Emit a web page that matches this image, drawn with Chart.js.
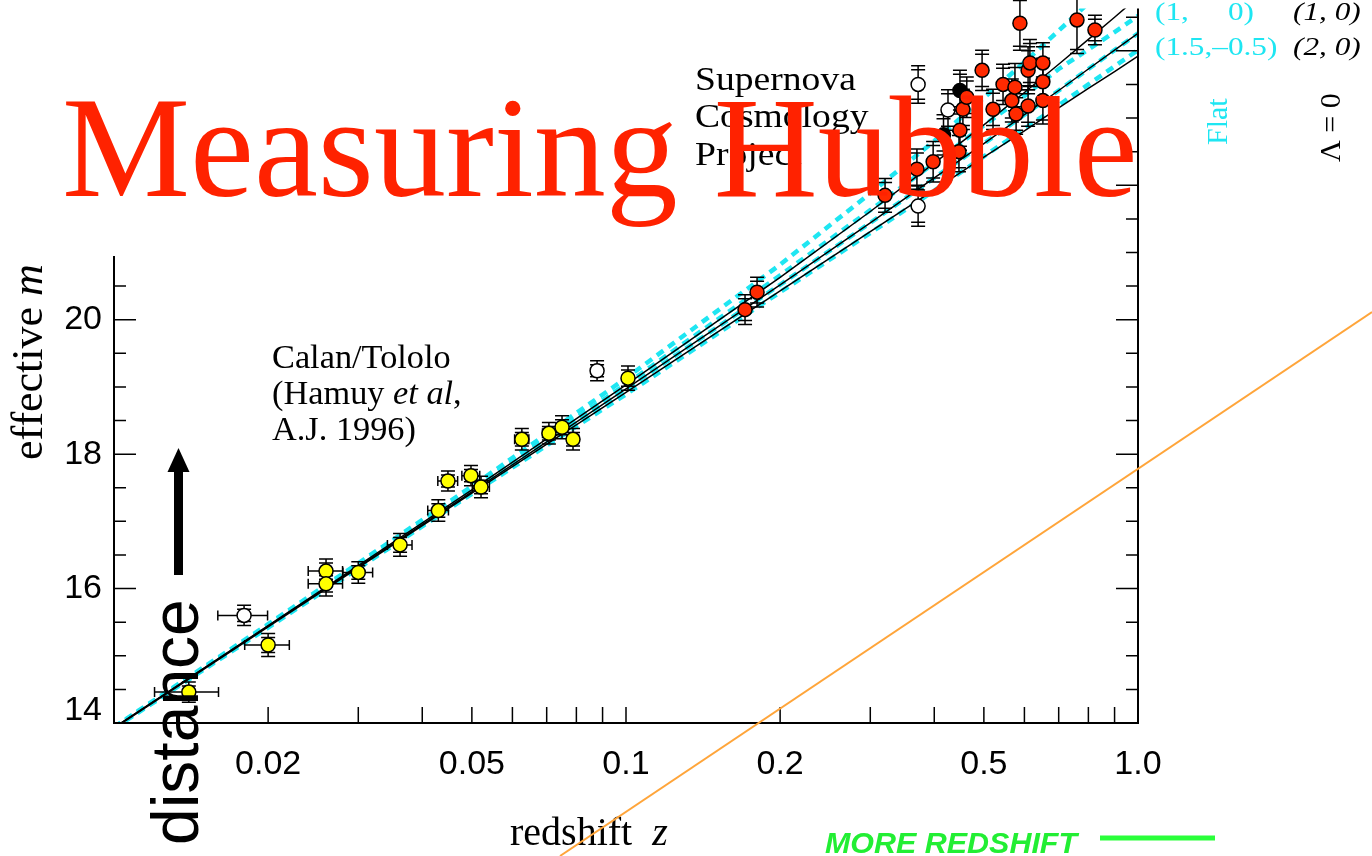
<!DOCTYPE html>
<html lang="en">
<head>
<meta charset="utf-8" />
<title>Measuring Hubble</title>
<script src="https://cdn.jsdelivr.net/npm/chart.js@4.4.1/dist/chart.umd.min.js"></script>
<style>
    html, body { margin: 0; padding: 0; background: #fff; overflow: hidden; }
    #wrap { position: relative; width: 1372px; height: 856px; }
</style>
</head>
<body>
<div id="wrap"><canvas id="hubbleChart"></canvas></div>
<script>
    // model curves, effective m against redshift z
    const modelZ = [0.01, 0.02, 0.05, 0.1, 0.2, 0.3, 0.4, 0.5, 0.6, 0.7, 0.8, 0.9, 1.0];
    const flat_0_1 = [13.94, 15.47, 17.52, 19.13, 20.82, 21.88, 22.66, 23.30, 23.83, 24.30, 24.71];
    const flat_05_05 = [13.93, 15.45, 17.48, 19.04, 20.66, 21.63, 22.33, 22.89, 23.33, 23.73, 24.02, 24.28, 24.52];
    const flat_1_0 = [13.93, 15.44, 17.44, 18.97, 20.52, 21.44, 22.11, 22.62, 23.05, 23.41, 23.73, 24.01, 24.26];
    const flat_15_m05 = [13.92, 15.42, 17.41, 18.89, 20.41, 21.29, 21.92, 22.43, 22.84, 23.19, 23.50, 23.77, 24.01];
    const open_0_0 = [13.93, 15.45, 17.47, 19.03, 20.63, 21.61, 22.33, 22.90, 23.38, 23.80, 24.17, 24.50, 24.80];
    const open_1_0 = [13.93, 15.44, 17.44, 18.97, 20.52, 21.44, 22.11, 22.62, 23.05, 23.41, 23.73, 24.01, 24.26];
    const closed_2_0 = [13.92, 15.43, 17.42, 18.92, 20.43, 21.31, 21.93, 22.42, 22.81, 23.15, 23.44, 23.69, 23.92];

    // Calan/Tololo supernovae
    const calanZ = [0.0140, 0.0200, 0.02595, 0.02595, 0.0300, 0.0362, 0.0430, 0.0449, 0.0498, 0.0521, 0.0626, 0.0707, 0.0750, 0.0788, 0.1009];
    const calanM = [14.46, 15.16, 16.26, 16.07, 16.24, 16.65, 17.16, 17.60, 17.68, 17.51, 18.22, 18.31, 18.40, 18.22, 19.13];
    const calanErr = [0.15, 0.17, 0.18, 0.18, 0.16, 0.17, 0.16, 0.15, 0.15, 0.16, 0.16, 0.16, 0.17, 0.16, 0.18];
    const calanZErr = [0.002, 0.002, 0.002, 0.002, 0.002, 0.002, 0.002, 0.002, 0.002, 0.002, 0.002, 0.002, 0.002, 0.002, 0.002];
    const calanOpenZ = [0.01795, 0.0878];
    const calanOpenM = [15.60, 19.24];
    const calanOpenErr = [0.15, 0.15];
    const calanOpenZErr = [0.002, 0.002];

    // Supernova Cosmology Project
    const scpZ = [0.1708, 0.1803, 0.3206, 0.370, 0.398, 0.447, 0.449, 0.455, 0.463, 0.496, 0.521, 0.545, 0.567, 0.575, 0.578, 0.588, 0.610, 0.610, 0.615, 0.652, 0.652, 0.652, 0.760, 0.824];
    const scpM = [20.15, 20.41, 21.85, 22.24, 22.35, 22.50, 22.82, 23.13, 23.31, 23.71, 23.13, 23.50, 23.26, 23.46, 23.06, 24.41, 23.71, 23.18, 23.82, 23.82, 23.54, 23.26, 24.46, 24.31];
    const scpErr = [0.22, 0.22, 0.25, 0.30, 0.30, 0.30, 0.30, 0.30, 0.30, 0.30, 0.30, 0.30, 0.32, 0.35, 0.30, 0.40, 0.35, 0.30, 0.35, 0.30, 0.35, 0.35, 0.50, 0.22];
    const scpOpenZ = [0.372, 0.4255, 0.372];
    const scpOpenM = [23.50, 23.12, 21.69];
    const scpOpenErr = [0.28, 0.30, 0.30];
    const scpDarkZ = [0.449, 0.417];
    const scpDarkM = [23.41, 22.75];
    const scpDarkErr = [0.30, 0.30];

    // axis ticks
    const zTickVals = [0.02, 0.03, 0.04, 0.05, 0.06, 0.07, 0.08, 0.09, 0.1, 0.2, 0.3, 0.4, 0.5, 0.6, 0.7, 0.8, 0.9];
    const zLabelVals = [0.02, 0.05, 0.1, 0.2, 0.5, 1.0];
    const zLabels = ['0.02', '0.05', '0.1', '0.2', '0.5', '1.0'];
    const mLabelVals = [14, 16, 18, 20];

    const serif = '"Liberation Serif", "Times New Roman", serif';
    const sans = '"Liberation Sans", Arial, sans-serif';
    const cyan = '#1ee6f2';

    function pts(xs, ys) {
        return ys.map((y, i) => ({ x: xs[i], y: y }));
    }

    function curve(label, values, color, width, dash, order) {
        return {
            label: label, data: pts(modelZ, values), showLine: true,
            borderColor: color, borderWidth: width, borderDash: dash,
            pointRadius: 0, fill: false, clip: 0, order: order
        };
    }

    function points(label, xs, ys, err, zErr, fill) {
        return {
            label: label, data: pts(xs, ys), mErr: err, zErr: zErr,
            backgroundColor: fill, borderColor: '#000', borderWidth: 1.5,
            pointRadius: 7, pointHoverRadius: 7, order: 0
        };
    }

    // draws runs of text, optionally stretched horizontally
    function textRuns(ctx, x, y, runs, sx) {
        ctx.save();
        ctx.translate(x, y);
        ctx.scale(sx || 1, 1);
        let cx = 0;
        runs.forEach(r => {
            ctx.font = r[1];
            ctx.fillStyle = r[2];
            ctx.fillText(r[0], cx, 0);
            cx += ctx.measureText(r[0]).width;
        });
        ctx.restore();
    }

    function rotatedText(ctx, x, y, runs) {
        ctx.save();
        ctx.translate(x, y);
        ctx.rotate(-Math.PI / 2);
        textRuns(ctx, 0, 0, runs, 1);
        ctx.restore();
    }

    const hubbleDecor = {
        id: 'hubbleDecor',
        beforeDatasetDraw(chart, args) {
            const ds = chart.data.datasets[args.index];
            if (!ds.mErr) return;
            const ctx = chart.ctx, xs = chart.scales.x, ys = chart.scales.y;
            ctx.save();
            ctx.strokeStyle = '#000';
            ctx.lineWidth = 1.5;
            ds.data.forEach((p, i) => {
                const px = xs.getPixelForValue(p.x), py = ys.getPixelForValue(p.y);
                const yt = ys.getPixelForValue(p.y + ds.mErr[i]);
                const yb = ys.getPixelForValue(p.y - ds.mErr[i]);
                ctx.beginPath();
                ctx.moveTo(px, yt); ctx.lineTo(px, yb);
                [[yt, 1], [yb, -1]].forEach(c => {
                    ctx.moveTo(px - 7, c[0]); ctx.lineTo(px + 7, c[0]);
                    ctx.moveTo(px - 7, c[0] + c[1] * 4); ctx.lineTo(px + 7, c[0] + c[1] * 4);
                });
                if (ds.zErr) {
                    const xl = xs.getPixelForValue(p.x - ds.zErr[i]);
                    const xr = xs.getPixelForValue(p.x + ds.zErr[i]);
                    ctx.moveTo(xl, py); ctx.lineTo(xr, py);
                    ctx.moveTo(xl, py - 5); ctx.lineTo(xl, py + 5);
                    ctx.moveTo(xr, py - 5); ctx.lineTo(xr, py + 5);
                }
                ctx.stroke();
            });
            ctx.restore();
        },
        afterDraw(chart) {
            const ctx = chart.ctx, a = chart.chartArea, xs = chart.scales.x, ys = chart.scales.y;
            ctx.save();

            // frame
            ctx.strokeStyle = '#000';
            ctx.lineWidth = 2;
            ctx.beginPath();
            ctx.moveTo(a.left, a.top);
            ctx.lineTo(a.left, a.bottom);
            ctx.lineTo(a.right, a.bottom);
            ctx.lineTo(a.right, a.top);
            ctx.stroke();

            // ticks, pointing inwards
            ctx.lineWidth = 1.5;
            ctx.beginPath();
            zTickVals.forEach(v => {
                const x = xs.getPixelForValue(v);
                ctx.moveTo(x, a.bottom); ctx.lineTo(x, a.bottom - 16);
            });
            for (let m = 14.5; m <= 24.5; m += 0.5) {
                const y = ys.getPixelForValue(m);
                const len = (m % 2 === 0) ? 22 : 12;
                ctx.moveTo(a.left, y); ctx.lineTo(a.left + len, y);
                ctx.moveTo(a.right, y); ctx.lineTo(a.right - len, y);
            }
            ctx.stroke();

            // tick labels
            ctx.fillStyle = '#000';
            ctx.font = '34px ' + sans;
            ctx.textAlign = 'center';
            ctx.textBaseline = 'middle';
            zLabelVals.forEach((v, i) => ctx.fillText(zLabels[i], xs.getPixelForValue(v), a.bottom + 42));
            ctx.textAlign = 'right';
            mLabelVals.forEach(v => ctx.fillText(String(v), a.left - 12, Math.min(ys.getPixelForValue(v), 711)));
            ctx.textAlign = 'left';
            ctx.textBaseline = 'alphabetic';

            // axis titles
            rotatedText(ctx, 42, 460, [['effective ', '44px ' + serif, '#000'], ['m', 'italic 44px ' + serif, '#000']]);
            textRuns(ctx, 510, 845, [['redshift  ', '40px ' + serif, '#000'], ['z', 'italic 40px ' + serif, '#000']], 1);

            // in-plot notes
            const note = '33px ' + serif, noteI = 'italic 33px ' + serif;
            textRuns(ctx, 272, 368, [['Calan/Tololo', note, '#000']], 1.04);
            textRuns(ctx, 272, 404, [['(Hamuy ', note, '#000'], ['et al', noteI, '#000'], [',', note, '#000']], 1.04);
            textRuns(ctx, 272, 440, [['A.J. 1996)', note, '#000']], 1.04);
            const scp = '33px ' + serif;
            textRuns(ctx, 695, 90, [['Supernova', scp, '#000']], 1.14);
            textRuns(ctx, 695, 127, [['Cosmology', scp, '#000']], 1.14);
            textRuns(ctx, 695, 165, [['Project', scp, '#000']], 1.14);

            // model key
            const key = '25px ' + serif, keyI = 'italic 25px ' + serif;
            textRuns(ctx, 1155, 20, [['(1,     0)', key, cyan]], 1.25);
            textRuns(ctx, 1155, 55, [['(1.5,\u20130.5)', key, cyan]], 1.25);
            textRuns(ctx, 1293, 20, [['(1, 0)', keyI, '#000']], 1.25);
            textRuns(ctx, 1293, 55, [['(2, 0)', keyI, '#000']], 1.25);
            rotatedText(ctx, 1227, 145, [['Flat', '30px ' + serif, cyan]]);
            rotatedText(ctx, 1340, 162, [['\u039B = 0', '30px ' + serif, '#000']]);

            // blank patch behind the slide title
            ctx.fillStyle = '#fff';
            ctx.fillRect(0, 0, 690, 256);

            // slide overlays
            textRuns(ctx, 62, 196, [['Measuring Hubble', '144px ' + serif, '#ff2200']], 1);

            ctx.fillStyle = '#000';
            ctx.fillRect(174, 470, 9, 105);
            ctx.beginPath();
            ctx.moveTo(178.5, 448); ctx.lineTo(189.5, 472); ctx.lineTo(167.5, 472);
            ctx.closePath();
            ctx.fill();
            rotatedText(ctx, 198, 845, [['distance', '66px ' + sans, '#000']]);

            ctx.strokeStyle = '#ffa53a';
            ctx.lineWidth = 2;
            ctx.beginPath();
            ctx.moveTo(560, 856); ctx.lineTo(1372, 312);
            ctx.stroke();

            textRuns(ctx, 825, 853, [['MORE REDSHIFT', 'italic bold 29px ' + sans, '#22ee33']], 1.05);
            ctx.strokeStyle = '#2aff3a';
            ctx.lineWidth = 5;
            ctx.beginPath();
            ctx.moveTo(1100, 838); ctx.lineTo(1215, 838);
            ctx.stroke();

            ctx.restore();
        }
    };

    const chartContext = document.getElementById('hubbleChart').getContext('2d');
    const hubbleChart = new Chart(chartContext, {
        type: 'scatter',
        data: {
            datasets: [
                points('Calan/Tololo', calanZ, calanM, calanErr, calanZErr, '#ffff00'),
                points('Calan/Tololo (excluded)', calanOpenZ, calanOpenM, calanOpenErr, calanOpenZErr, '#ffffff'),
                points('SCP', scpZ, scpM, scpErr, null, '#ff2a00'),
                points('SCP (excluded)', scpOpenZ, scpOpenM, scpOpenErr, null, '#ffffff'),
                points('SCP (other)', scpDarkZ, scpDarkM, scpDarkErr, null, '#000000'),
                curve('(0, 0)', open_0_0, '#000', 1.5, [], 1),
                curve('(1, 0)', open_1_0, '#000', 1.5, [], 1),
                curve('(2, 0)', closed_2_0, '#000', 1.5, [], 1),
                curve('Flat (0, 1)', flat_0_1, cyan, 4.5, [8, 6], 2),
                curve('Flat (0.5, 0.5)', flat_05_05, cyan, 4.5, [8, 6], 2),
                curve('Flat (1, 0)', flat_1_0, cyan, 4.5, [8, 6], 2),
                curve('Flat (1.5, -0.5)', flat_15_m05, cyan, 4.5, [8, 6], 2)
            ]
        },
        options: {
            responsive: true,
            maintainAspectRatio: false,
            animation: false,
            layout: { padding: { left: 114, right: 234, top: 0, bottom: 133 } },
            plugins: { legend: { display: false }, tooltip: { enabled: false } },
            scales: {
                x: { type: 'logarithmic', min: 0.01, max: 1.0, display: false },
                y: { type: 'linear', min: 14, max: 24.63, display: false }
            }
        },
        plugins: [hubbleDecor]
    });
</script>
</body>
</html>
